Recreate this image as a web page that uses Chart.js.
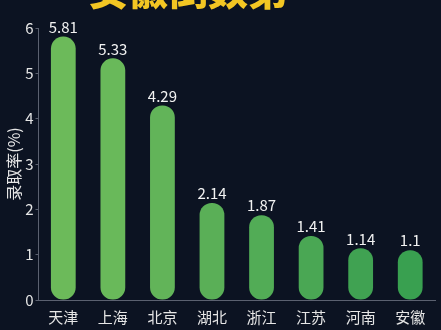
<!DOCTYPE html>
<html>
<head>
<meta charset="utf-8">
<script src="https://cdn.jsdelivr.net/npm/chart.js@4"></script>
<style>
  html, body { margin: 0; padding: 0; background: #0c1322; }
  #wrap { position: relative; width: 441px; height: 330px; overflow: hidden; }
  #title {
    position: absolute; left: 88px; top: -41px;
    font-family: "Noto Sans CJK SC"; font-weight: 900; font-size: 40px;
    color: #f3c623; white-space: nowrap;
  }
  canvas { position: absolute; left: 0; top: 0; }
</style>
</head>
<body>
<div id="wrap">
  <canvas id="rateChart" width="441" height="330"></canvas>
  <div id="title">安徽倒数第一</div>
</div>
<script>
// Provinces and admission rates (%)
const provinces = ['天津', '上海', '北京', '湖北', '浙江', '江苏', '河南', '安徽'];
const rates = [5.81, 5.33, 4.29, 2.14, 1.87, 1.41, 1.14, 1.1];
const barColors = ['#6cba5a', '#69b95a', '#62b459', '#5aaf57', '#52ac56', '#4aa754', '#40a252', '#39a050'];
const yTicks = [0, 1, 2, 3, 4, 5, 6];
const yTitle = '录取率(%)';

const font = '"Noto Sans CJK SC", "Noto Sans", sans-serif';

// Draws the value on top of each bar
const valueLabels = {
    id: 'valueLabels',
    afterDatasetsDraw(chart) {
        const ctx = chart.ctx;
        const meta = chart.getDatasetMeta(0);
        ctx.save();
        ctx.fillStyle = '#f2f2f2';
        ctx.font = '15px ' + font;
        ctx.textAlign = 'center';
        ctx.textBaseline = 'bottom';
        meta.data.forEach((bar, i) => {
            ctx.fillText(String(rates[i]), bar.x, bar.y - 2);
        });
        ctx.restore();
    }
};

document.addEventListener('DOMContentLoaded', () => {
    const ctx = document.getElementById('rateChart').getContext('2d');
    new Chart(ctx, {
        type: 'bar',
        data: {
            labels: provinces,
            datasets: [{
                data: rates,
                backgroundColor: barColors,
                borderRadius: 12,
                borderSkipped: false,
                barPercentage: 0.5,
                categoryPercentage: 1
            }]
        },
        options: {
            responsive: false,
            animation: false,
            layout: { padding: { top: 28, right: 6, left: 4, bottom: 4 } },
            plugins: {
                legend: { display: false },
                tooltip: { enabled: false }
            },
            scales: {
                x: {
                    grid: { display: false },
                    border: { color: '#5b6170', width: 1 },
                    ticks: { color: '#e6e6e6', font: { family: font, size: 15 }, padding: 0 }
                },
                y: {
                    min: 0,
                    max: 6,
                    afterBuildTicks: axis => { axis.ticks = yTicks.map(v => ({ value: v })); },
                    grid: { drawOnChartArea: false, color: '#5b6170', tickLength: 3 },
                    border: { color: '#5b6170', width: 1 },
                    ticks: { color: '#e6e6e6', font: { family: font, size: 15 }, padding: 2 },
                    title: { display: true, text: yTitle, color: '#e6e6e6', font: { family: font, size: 16 }, padding: 0 }
                }
            }
        },
        plugins: [valueLabels]
    });
});
</script>
</body>
</html>
